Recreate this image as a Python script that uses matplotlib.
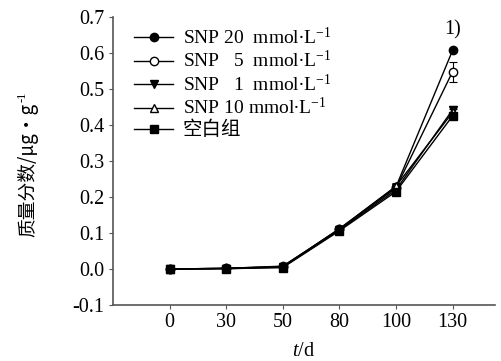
import matplotlib
matplotlib.use("Agg")
import matplotlib.pyplot as plt
import numpy as np

days = ["0", "30", "50", "80", "100", "130"]
snp20 = [0.0, 0.002, 0.006, 0.112, 0.228, 0.607]
snp5 = [0.0, 0.002, 0.008, 0.110, 0.225, 0.548]
snp1 = [0.0, 0.001, 0.005, 0.108, 0.220, 0.442]
snp10 = [0.0, 0.002, 0.007, 0.111, 0.230, 0.435]
blank = [0.0, 0.001, 0.004, 0.106, 0.215, 0.425]
err20 = [0.002, 0.002, 0.003, 0.004, 0.008, 0.004]
err5 = [0.002, 0.002, 0.003, 0.004, 0.010, 0.028]
err1 = [0.002, 0.002, 0.003, 0.004, 0.008, 0.010]
err10 = [0.002, 0.002, 0.003, 0.004, 0.010, 0.010]
errb = [0.002, 0.002, 0.003, 0.004, 0.008, 0.008]

plt.rcParams['font.family'] = ['Liberation Serif', 'Noto Sans CJK SC']
plt.rcParams['mathtext.fontset'] = 'custom'
plt.rcParams['mathtext.rm'] = 'Liberation Serif'
plt.rcParams['mathtext.it'] = 'Liberation Serif:italic'

fig = plt.figure(figsize=(5.01, 3.61), dpi=100)
ax = fig.add_axes([0.2255, 0.155, 0.7625, 0.798])
x = np.arange(len(days))

series = [
    (snp20, err20, 'o', 'black', "SNP 20  mmol$\\bullet$L$^{-1}$"),
    (snp5, err5, 'o', 'white', "SNP   5  mmol$\\bullet$L$^{-1}$"),
    (snp1, err1, 'v', 'black', "SNP   1  mmol$\\bullet$L$^{-1}$"),
    (snp10, err10, '^', 'white', "SNP 10 mmol$\\bullet$L$^{-1}$"),
    (blank, errb, 's', 'black', "空白组"),
]
for vals, errs, m, fc, lab in series:
    ax.errorbar(x, vals, yerr=errs, fmt='none', ecolor='black',
                capsize=3, elinewidth=0.8, capthick=0.8)
    ax.plot(x, vals, marker=m, color='black', mfc=fc, mec='black',
            ms=6, lw=1.0, label=lab)

ax.set_xlim(-1.0, 5.75)
ax.set_ylim(-0.1, 0.7)
ax.set_xticks(x)
ax.set_xticklabels(days)
ax.set_yticks(np.arange(-0.1, 0.71, 0.1))
ax.set_yticklabels(["%.1f" % v for v in np.arange(-0.1, 0.71, 0.1)])
for s in ['top', 'right']:
    ax.spines[s].set_visible(False)
for s in ['left', 'bottom']:
    ax.spines[s].set_color('#555555')
    ax.spines[s].set_linewidth(1.2)
ax.tick_params(labelsize=14.5, direction='out', length=3, color='#555555', pad=3)

ax.set_xlabel("$t$/d", fontsize=14.5, labelpad=7)
ax.text(5, 0.638, "1)", ha='center', va='bottom', fontsize=14.5)

# y label: Chinese text + superscript drawn separately
yl = fig.text(0.056, 0.53, "质量分数/μg·g", rotation=90, ha='center', va='center',
              fontsize=13.5, family=['Noto Sans CJK SC', 'DejaVu Sans'])
fig.canvas.draw()
bb = yl.get_window_extent()
fig.text((bb.x0 - 1) / fig.bbox.width, (bb.y1 + 1) / fig.bbox.height, "-1",
         rotation=90, ha='left', va='bottom', fontsize=9,
         family=['Liberation Serif'])

ax.legend(loc='upper left', bbox_to_anchor=(0.03, 1.0), frameon=False,
          fontsize=14, handlelength=2.0, handletextpad=0.5,
          labelspacing=0.12, borderaxespad=0.1)

fig.savefig("out.png", dpi=100)
